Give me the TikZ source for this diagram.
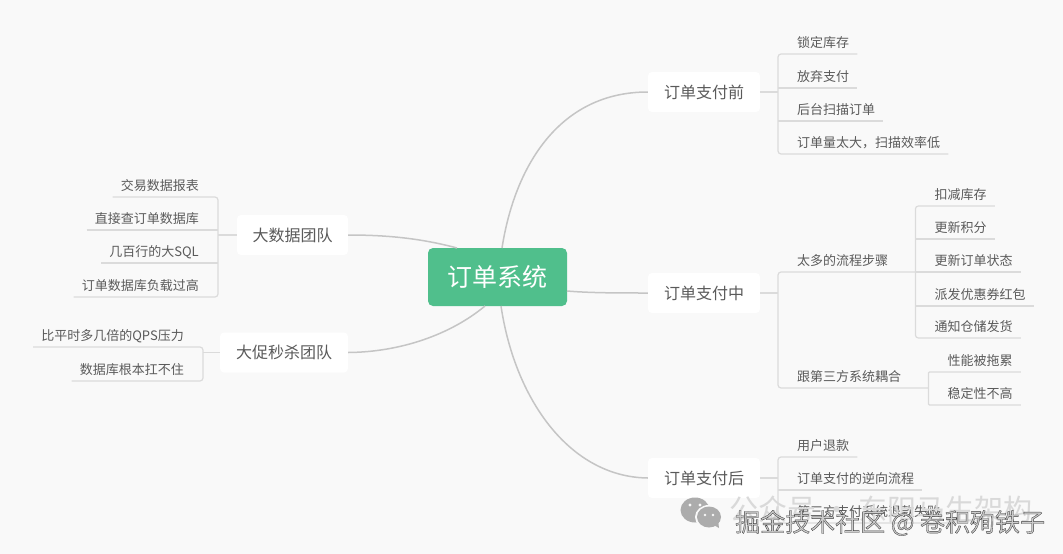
\documentclass[tikz,border=0pt]{standalone}
\usepackage{fontspec}
\setmainfont{Noto Sans CJK SC}
\usetikzlibrary{backgrounds}
\definecolor{bgc}{HTML}{F9F9F9}
\definecolor{linec}{HTML}{DBDBDB}
\definecolor{txt}{HTML}{5A5A5A}
\definecolor{greenc}{HTML}{50BF8C}
\tikzset{
  x=1pt,y=-1pt,
  branchbox/.style={fill=white,rounded corners=4pt,text=txt,font=\fontsize{16}{16}\selectfont,inner sep=0pt,minimum height=40pt},
  conn/.style={draw=linec,line width=1.2pt,rounded corners=3pt},
  curve/.style={draw=linec!90!black,line width=1.5pt},
  rleaf/.style={anchor=south west,inner sep=0pt,text=txt,font=\fontsize{13}{13}\selectfont,text height=13pt,text depth=6.2pt},
  lleaf/.style={anchor=south east,inner sep=0pt,text=txt,font=\fontsize{13}{13}\selectfont,text height=13pt,text depth=6.2pt},
}
\newcommand{\rt}[1]{\hspace*{19pt}#1\kern8pt\relax}
\newcommand{\lt}[1]{\hspace*{8pt}#1\kern19pt\relax}
\begin{document}
\begin{tikzpicture}
\useasboundingbox (0,0) rectangle (1063,554);
\fill[bgc] (0,0) rectangle (1063,554);

% centre and branches
\node[fill=greenc,rounded corners=5pt,text=white,minimum width=139pt,minimum height=58pt,inner sep=0pt,font=\fontsize{25}{25}\selectfont] (center) at (497.5,277) {订单系统};
\node[branchbox,minimum width=112pt] (pre) at (704,92) {订单支付前};
\node[branchbox,minimum width=112pt] (mid) at (704,293) {订单支付中};
\node[branchbox,minimum width=112pt] (post) at (704,478) {订单支付后};
\node[branchbox,minimum width=111pt] (big) at (292.5,235) {大数据团队};
\node[branchbox,minimum width=128pt] (promo) at (284,352.5) {大促秒杀团队};

% curves from the centre
\coordinate (cpre) at (502,248);
\coordinate (cpost) at (501,306);
\coordinate (cbig) at (457,248);
\coordinate (cpromo) at (485,306);
\coordinate (cmid) at (567,291);
\draw[curve] (cpre) .. controls (515,165) and (560,92) .. (pre.west);
\draw[curve] (cpost) .. controls (515,400) and (570,477) .. (post.west);
\draw[curve] (cmid) .. controls (590,293) and (620,293) .. (mid.west);
\draw[curve] (cbig) .. controls (420,238) and (385,235) .. (big.east);
\draw[curve] (cpromo) .. controls (450,335) and (400,352) .. (promo.east);

% order before payment
\node[rleaf] (a1) at (778,54) {\rt{锁定库存}};
\node[rleaf] (a2) at (778,88) {\rt{放弃支付}};
\node[rleaf] (a3) at (778,121) {\rt{后台扫描订单}};
\node[rleaf] (a4) at (778,154) {\rt{订单量太大，扫描效率低}};
\draw[conn] (a1.south east) -- (a1.south west) -- (a4.south west) -- (a4.south east);
\draw[conn] (a2.south west) -- (a2.south east);
\draw[conn] (a3.south west) -- (a3.south east);
\draw[conn] (pre.east) -- (pre.east -| a1.south west);

% order during payment
\node[rleaf] (b1) at (778,272) {\hspace*{19pt}太多的流程步骤\kern27pt\relax};
\node[rleaf] (b2) at (778,388) {\hspace*{19pt}跟第三方系统耦合\kern27pt\relax};
\draw[conn] (b1.south east) -- (b1.south west) -- (b2.south west) -- (b2.south east);
\draw[conn] (mid.east) -- (mid.east -| b1.south west);
\node[rleaf] (c1) at (b1.south east |- 0,206) {\rt{扣减库存}};
\node[rleaf] (c2) at (b1.south east |- 0,239) {\rt{更新积分}};
\node[rleaf] (c3) at (b1.south east |- 0,272) {\rt{更新订单状态}};
\node[rleaf] (c4) at (b1.south east |- 0,306) {\rt{派发优惠券红包}};
\node[rleaf] (c5) at (b1.south east |- 0,338) {\rt{通知仓储发货}};
\draw[conn] (c1.south east) -- (c1.south west) -- (c5.south west) -- (c5.south east);
\draw[conn] (c2.south west) -- (c2.south east);
\draw[conn] (c3.south west) -- (c3.south east);
\draw[conn] (c4.south west) -- (c4.south east);
\node[rleaf] (d1) at (b2.south east |- 0,372) {\rt{性能被拖累}};
\node[rleaf] (d2) at (b2.south east |- 0,405) {\rt{稳定性不高}};
\draw[conn,rounded corners=1pt] (d1.south east) -- (d1.south west) -- (d2.south west) -- (d2.south east);

% order after payment
\node[rleaf] (e1) at (778,457) {\rt{用户退款}};
\node[rleaf] (e2) at (778,490) {\rt{订单支付的逆向流程}};
\node[rleaf] (e3) at (778,523) {\rt{第三方支付系统退款失败}};
\draw[conn] (e1.south east) -- (e1.south west) -- (e3.south west) -- (e3.south east);
\draw[conn] (e2.south west) -- (e2.south east);
\draw[conn] (post.east) -- (post.east -| e1.south west);

% big data team
\node[lleaf] (f1) at (218,197) {\lt{交易数据报表}};
\node[lleaf] (f2) at (218,230) {\lt{直接查订单数据库}};
\node[lleaf] (f3) at (218,263) {\lt{几百行的大SQL}};
\node[lleaf] (f4) at (218,297) {\lt{订单数据库负载过高}};
\draw[conn] (f1.south west) -- (f1.south east) -- (f4.south east) -- (f4.south west);
\draw[conn] (f2.south west) -- (f2.south east);
\draw[conn] (f3.south west) -- (f3.south east);
\draw[conn] (big.west) -- (big.west -| f1.south east);

% promotion team
\node[lleaf] (g1) at (203,347) {\lt{比平时多几倍的QPS压力}};
\node[lleaf] (g2) at (203,381) {\lt{数据库根本扛不住}};
\draw[conn] (g1.south west) -- (g1.south east) -- (g2.south east) -- (g2.south west);
\draw[conn] (promo.west) -- (promo.west -| g1.south east);

% watermark
\fill[gray!65] (695,510) ellipse (14.5 and 12.5);
\fill[gray!65] (695,510) -- ++(-8,10) -- ++(12,-4) -- cycle;
\fill[bgc] (709,517) ellipse (14 and 12);
\fill[gray!65] (709,517) ellipse (12 and 10.5);
\fill[gray!65] (712,524) -- ++(7,4) -- ++(-1,-8) -- cycle;
\fill[bgc] (690,505) circle (1.6) (700,505) circle (1.6) (705,515) circle (1.4) (713,515) circle (1.4);
\node[anchor=west,inner sep=0pt,text=gray!30,font=\fontsize{29}{29}\selectfont] (wm1) at (729,509) {公众号 · 东阳马生架构};
\node[anchor=west,inner sep=0pt,text=gray!80,font=\fontsize{25}{25}\selectfont] (wm2) at (735,523) {\special{pdf:code 2 Tr 0.35 w 0.25 G 0.8 g}掘金技术社区 @ 卷积殉铁子\special{pdf:code 0 Tr}};
\end{tikzpicture}
\end{document}
